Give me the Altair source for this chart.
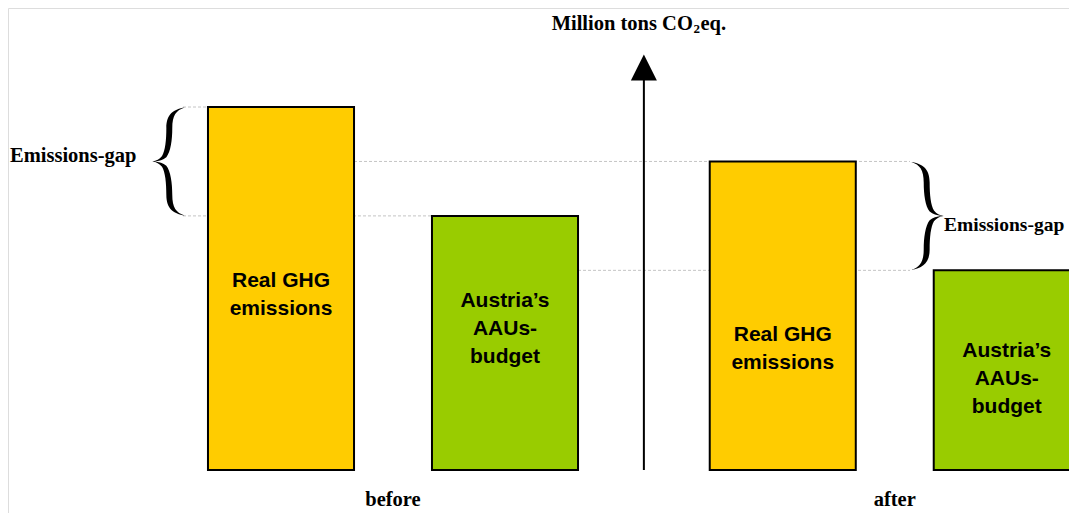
import altair as alt
import pandas as pd
import re

# ---------------- data ----------------
phases = ["before", "before", "after", "after"]
series = ["Real GHG emissions", "Austria's AAUs-budget", "Real GHG emissions", "Austria's AAUs-budget"]
bar_text = ["Real GHG\nemissions", "Austria\u2019s\nAAUs-\nbudget", "Real GHG\nemissions", "Austria\u2019s\nAAUs-\nbudget"]
values = [100, 70, 85, 55]          # relative emissions (Real before = 100)
series_colors = ["#FFCC00", "#99CC00"]
phase_names = ["before", "after"]
axis_title = ["Million tons CO", "2", "eq."]
gap_label = "Emissions-gap"

# ---------------- layout ----------------
W, H = 1061, 505
PX_U = 224.0          # px per slot unit
PX_V = 3.63           # px per value unit
ORIGIN_X = 273.0      # chart px of slot 0
BASE_Y = 462.0        # chart px of value 0
slot = [0.0, 1.0, 2.24, 3.24]
half = 0.326
label_v = [50.5, 45.0, 35.5, 31.0]
axis_u = 1.62


def u_of(page_x):
    return (page_x - 8 - ORIGIN_X) / PX_U


def v_of(page_y):
    return (BASE_Y - (page_y - 8)) / PX_V


x_lo = -ORIGIN_X / PX_U
xs = alt.Scale(domain=[x_lo, x_lo + W / PX_U], nice=False, zero=False)
y_lo = -(H - BASE_Y) / PX_V
ys = alt.Scale(domain=[y_lo, y_lo + H / PX_V], nice=False, zero=False)

bars = pd.DataFrame({
    "phase": phases, "series": series, "value": values, "text": bar_text,
    "x0": [s - half for s in slot], "x1": [s + half for s in slot], "xc": slot,
    "lv": label_v, "base": [0] * 4,
})


def X(f):
    return alt.X(f, type="quantitative", scale=xs, axis=None)


def Y(f):
    return alt.Y(f, type="quantitative", scale=ys, axis=None)


# dashed guide lines
g_left = u_of(183)
g_right = u_of(910)
guides = pd.DataFrame({
    "xa": [g_left, g_left, slot[0] + half, slot[1] + half],
    "xb": [slot[0] - half, slot[1] - half, g_right, g_right],
    "y": [values[0], values[1], values[2], values[3]],
})
guide_layer = alt.Chart(guides).mark_rule(
    color="#c4c4c4", strokeDash=[3, 2], strokeWidth=1
).encode(x=X("xa"), x2="xb", y=Y("y"))

bar_layer = alt.Chart(bars).mark_rect(stroke="black", strokeWidth=2).encode(
    x=X("x0"), x2="x1", y=Y("value"), y2="base",
    color=alt.Color("series:N", scale=alt.Scale(domain=series[:2], range=series_colors), legend=None),
)

bar_text_layer = alt.Chart(bars).mark_text(
    align="center", baseline="alphabetic", font="Liberation Sans", fontWeight="bold",
    fontSize=21, lineHeight=28, lineBreak="\n", color="black"
).encode(x=X("xc"), y=Y("lv"), text="text:N")

# braces
LB = ("M0.30,-1 C0.10,-0.97 -0.04,-0.88 -0.04,-0.62 C-0.04,-0.40 -0.06,-0.20 -0.12,-0.10 "
      "C-0.17,-0.04 -0.22,-0.01 -0.30,0 C-0.22,0.01 -0.17,0.04 -0.12,0.10 "
      "C-0.06,0.20 -0.04,0.40 -0.04,0.62 C-0.04,0.88 0.10,0.97 0.30,1 "
      "C0.14,0.95 0.07,0.85 0.07,0.62 C0.07,0.40 0.04,0.18 -0.04,0.08 "
      "C-0.10,0.03 -0.17,0.01 -0.26,0 C-0.17,-0.01 -0.10,-0.03 -0.04,-0.08 "
      "C0.04,-0.18 0.07,-0.40 0.07,-0.62 C0.07,-0.85 0.14,-0.95 0.30,-1 Z")
RB = re.sub(r"(-?\d*\.?\d+),", lambda m: f"{-float(m.group(1)):.2f},", LB)

brace_px = 108
lb_df = pd.DataFrame({"x": [u_of(168.5)], "y": [(values[0] + values[1]) / 2]})
rb_df = pd.DataFrame({"x": [u_of(927.5)], "y": [(values[2] + values[3]) / 2]})
lbrace = alt.Chart(lb_df).mark_point(shape=LB, filled=True, color="black", opacity=1,
                                     size=brace_px ** 2, strokeWidth=0).encode(x=X("x"), y=Y("y"))
rbrace = alt.Chart(rb_df).mark_point(shape=RB, filled=True, color="black", opacity=1,
                                     size=brace_px ** 2, strokeWidth=0).encode(x=X("x"), y=Y("y"))

serif = dict(font="Liberation Serif", fontWeight="bold", fontSize=20.5, color="black",
             baseline="alphabetic")
gap_l = alt.Chart(pd.DataFrame({"x": [u_of(10)], "y": [(values[0] + values[1]) / 2 - 0.2],
                                "t": [gap_label]})).mark_text(align="left", **serif).encode(
    x=X("x"), y=Y("y"), text="t:N")
gap_r = alt.Chart(pd.DataFrame({"x": [u_of(944)], "y": [(values[2] + values[3]) / 2 - 4.2],
                                "t": [gap_label]})).mark_text(align="left", **{**serif, "fontSize": 19.5}).encode(
    x=X("x"), y=Y("y"), text="t:N")

# axis arrow
axis_top = v_of(80)
ax_df = pd.DataFrame({"x": [axis_u], "y0": [0], "y1": [axis_top], "yt": [axis_top + 12.5 / PX_V]})
ax_line = alt.Chart(ax_df).mark_rule(color="black", strokeWidth=2).encode(x=X("x"), y=Y("y0"), y2="y1")
ax_head = alt.Chart(ax_df).mark_point(shape="M0,-1L1,1L-1,1Z", filled=True, color="black", opacity=1,
                                      size=26 ** 2, strokeWidth=0).encode(x=X("x"), y=Y("yt"))

t_df = pd.DataFrame({"x": [axis_u], "y": [v_of(30)]})
t1 = alt.Chart(t_df).mark_text(align="right", dx=49, text=axis_title[0], **serif).encode(x=X("x"), y=Y("y"))
t2 = alt.Chart(t_df).mark_text(align="left", dx=49.5, dy=3, text=axis_title[1],
                               **{**serif, "fontSize": 13}).encode(x=X("x"), y=Y("y"))
t3 = alt.Chart(t_df).mark_text(align="left", dx=56.5, text=axis_title[2], **serif).encode(x=X("x"), y=Y("y"))

ph_df = pd.DataFrame({"x": [(slot[0] + slot[1]) / 2, (slot[2] + slot[3]) / 2],
                      "y": [v_of(506)] * 2, "t": phase_names})
ph_text = alt.Chart(ph_df).mark_text(align="center", **serif).encode(x=X("x"), y=Y("y"), text="t:N")

chart = alt.layer(
    guide_layer, bar_layer, bar_text_layer, lbrace, rbrace, gap_l, gap_r,
    ax_line, ax_head, t1, t2, t3, ph_text
).properties(
    width=W, height=H, padding=0,
    autosize=alt.AutoSizeParams(type="none"),
).configure_view(stroke=None).configure(background="white")

chart.save("out.html", embed_options={"renderer": "svg", "actions": False})
